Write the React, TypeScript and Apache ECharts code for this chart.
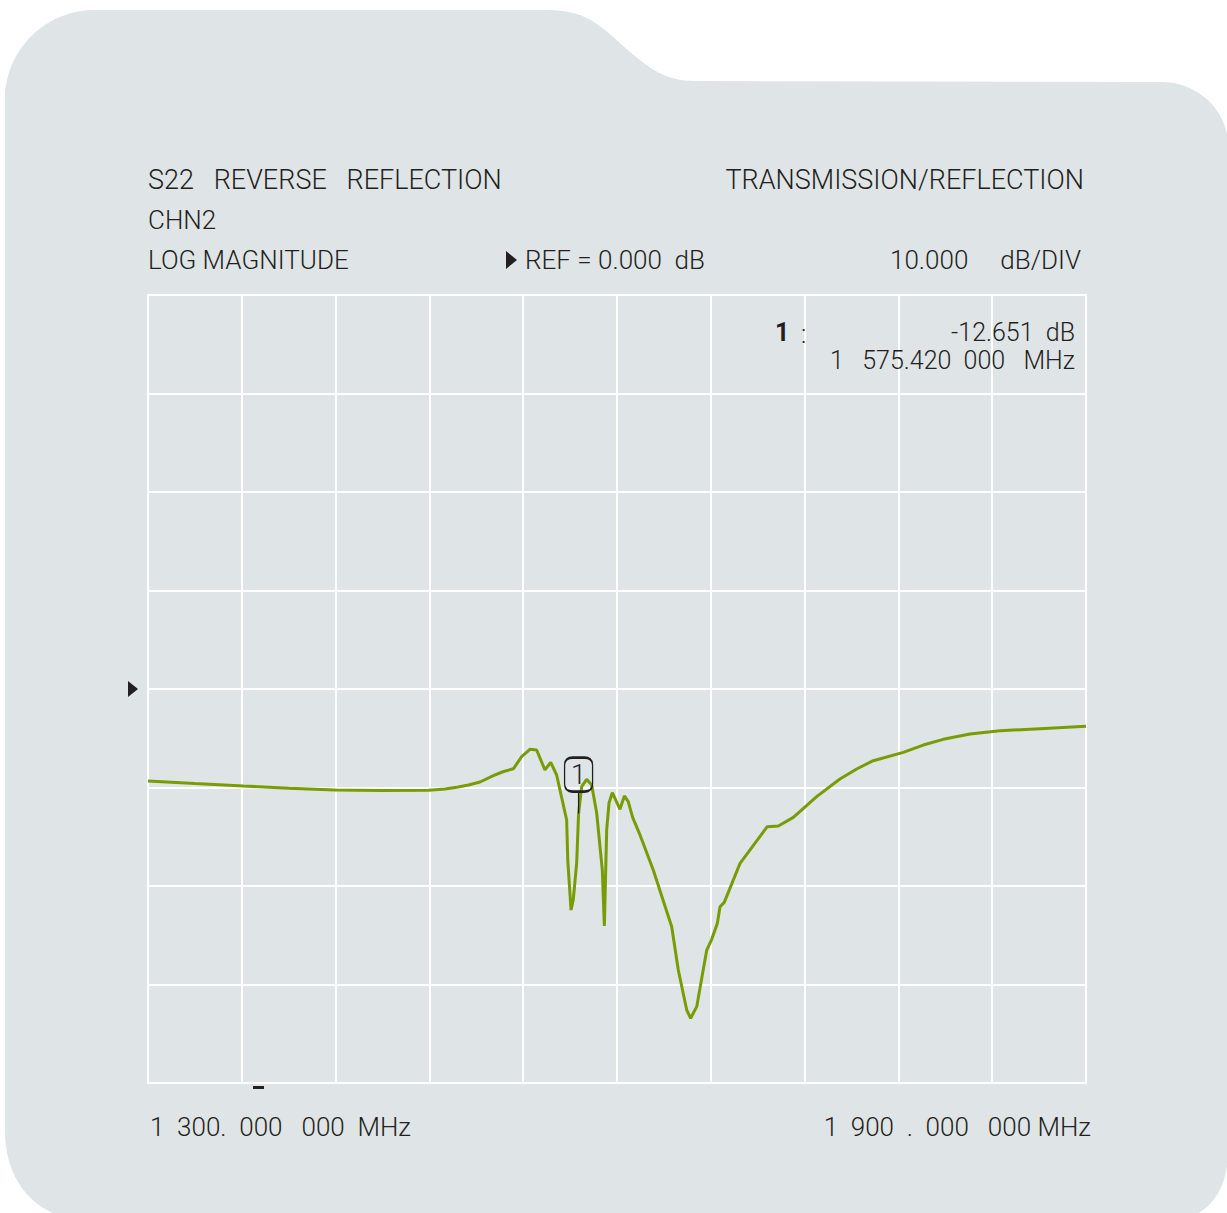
import React, { useEffect, useRef } from "react";
import * as echarts from "echarts";

// ---- data ----
const freqMHz = [
  1300, 1330, 1361, 1390, 1419.6, 1450, 1479.7, 1490, 1497.5, 1505, 1512.4, 1520.9, 1527, 1533.7,
  1539.0, 1544.3, 1548.6, 1553.9, 1557.6, 1561.4, 1567.8, 1568.5, 1570.6, 1572.0, 1574.2, 1575.42,
  1577.4, 1580.6, 1583.8, 1587.0, 1590.6, 1591.9, 1593.4, 1594.9, 1597.0, 1599.2, 1601.9, 1604.7,
  1607.2, 1610.0, 1614.3, 1623.2, 1635.0, 1639.2, 1644.6, 1647.1, 1651.0, 1657.4, 1660.6, 1664.2,
  1665.9, 1668.6, 1678.7, 1696.1, 1703.2, 1712.8, 1727.7, 1742.6, 1753.3, 1763.9, 1783.1, 1795.9,
  1808.7, 1825.8, 1845.0, 1870.6, 1900,
];
const magDB = [
  -9.34, -9.6, -9.85, -10.07, -10.25, -10.3, -10.28, -10.15, -9.98, -9.75, -9.44, -8.8, -8.4, -8.1,
  -6.87, -6.12, -6.19, -8.22, -7.44, -8.73, -13.3, -17.36, -22.44, -21.42, -17.67, -12.65,
  -9.92, -9.17, -9.75, -12.59, -18.38, -24.06, -14.31, -11.57, -10.53, -11.27, -12.21, -10.86,
  -11.44, -13.03, -14.65, -18.38, -24.13, -28.53, -32.59, -33.43, -32.25, -26.5, -25.41, -23.79,
  -22.1, -21.66, -17.7, -13.98, -13.91, -13.03, -10.93, -9.14, -8.12, -7.28, -6.43, -5.69,
  -5.11, -4.57, -4.23, -4.03, -3.79,
];
const startFreq = 1300;
const stopFreq = 1900;
const freqStep = 60;
const refLevel = 0;
const dbPerDiv = 10;
const dbMin = -40;
const dbMax = 40;
const markerFreq = 1575.42;
const markerDB = -12.651;

const headerLeft1 = "S22\u00A0\u00A0\u00A0REVERSE\u00A0\u00A0\u00A0REFLECTION";
const headerRight1 = "TRANSMISSION/REFLECTION";
const headerLeft2 = "CHN2";
const headerLeft3 = "LOG MAGNITUDE";
const headerRef = "REF = 0.000\u00A0\u00A0dB";
const headerScale = "10.000";
const headerUnit = "dB/DIV";
const readoutDB = "-12.651\u00A0\u00A0dB";
const readoutFreq = "1\u00A0\u00A0\u00A0575.420\u00A0\u00A0000\u00A0\u00A0\u00A0MHz";
const startLabel = "1\u00A0\u00A0300.\u00A0\u00A0000\u00A0\u00A0\u00A0000\u00A0\u00A0MHz";
const stopLabel = "1\u00A0\u00A0900\u00A0\u00A0.\u00A0\u00A0000\u00A0\u00A0\u00A0000\u00A0MHz";

const BG_PATH =
  "M5,100 C5,50 45,10 95,10 L548,10 C585,10 600,25 622,45 C648,68 665,81 695,81 L1162,82 C1197,82 1228,110 1228,145 L1228,1150 C1228,1190 1210,1222 1160,1222 L95,1222 C45,1222 5,1190 5,1130 Z";

const MARKER_PATH =
  "path://M8,0 L20,0 Q28,0 28,8 L28,26 Q28,34 20,34 L8,34 Q0,34 0,26 L0,8 Q0,0 8,0 Z M14,34 L14,56";

const FONT = "Roboto, 'Noto Sans', sans-serif";
const INK = "#231f20";
const BG = "#dfe4e6";
const TRACE = "#789c04";

let registered = false;

export default function App() {
  const ref = useRef<HTMLDivElement>(null);

  useEffect(() => {
    document.body.style.margin = "0";
    document.body.style.overflow = "hidden";
    if (!registered) {
      echarts.graphic.registerShape("bgShape", echarts.graphic.extendPath(BG_PATH, {}) as any);
      registered = true;
    }
    const chart = echarts.init(ref.current!, null, { renderer: "svg" });

    const txt = (text: string, x: number, y: number, align: string, extra: any = {}) => ({
      type: "text",
      z: 5,
      style: {
        text,
        x,
        y,
        fill: INK,
        fontSize: 26,
        fontWeight: 300,
        fontFamily: FONT,
        textAlign: align,
        textVerticalAlign: "middle",
        ...extra,
      },
    });

    chart.setOption({
      animation: false,
      backgroundColor: "#ffffff",
      graphic: {
        elements: [
          { type: "bgShape", x: 0, y: 0, z: -10, style: { fill: BG } },
          txt(headerLeft1, 148, 180, "left", { fontSize: 27 }),
          txt(headerRight1, 1084, 180, "right", { fontSize: 27 }),
          txt(headerLeft2, 148, 220, "left"),
          txt(headerLeft3, 148, 260, "left"),
          {
            type: "polygon",
            z: 5,
            shape: { points: [[506, 251], [517, 260], [506, 269]] },
            style: { fill: INK },
          },
          txt(headerRef, 525, 260, "left"),
          txt(headerScale, 890, 260, "left"),
          txt(headerUnit, 1081, 260, "right"),
          txt("1", 775, 332, "left", { fontWeight: "bold", fontSize: 25 }),
          txt(":", 801, 334, "left", { fontSize: 25 }),
          txt(readoutDB, 1075, 332, "right", { fontSize: 25 }),
          txt(readoutFreq, 1075, 360, "right", { fontSize: 25 }),
          txt(startLabel, 150, 1127, "left"),
          txt(stopLabel, 1091, 1127, "right"),
          { type: "rect", z: 5, shape: { x: 253, y: 1086, width: 11, height: 3 }, style: { fill: INK } },
        ],
      },
      grid: {
        left: 148,
        top: 295,
        width: 938,
        height: 788,
        show: true,
        borderColor: "#ffffff",
        borderWidth: 2,
        backgroundColor: "transparent",
      },
      xAxis: {
        type: "value",
        min: startFreq,
        max: stopFreq,
        interval: freqStep,
        axisLine: { show: false },
        axisTick: { show: false },
        axisLabel: { show: false },
        splitLine: { show: true, lineStyle: { color: "#ffffff", width: 2 } },
      },
      yAxis: {
        type: "value",
        min: dbMin,
        max: dbMax,
        interval: dbPerDiv,
        axisLine: { show: false },
        axisTick: { show: false },
        axisLabel: { show: false },
        splitLine: { show: true, lineStyle: { color: "#ffffff", width: 2 } },
      },
      series: [
        {
          type: "line",
          data: freqMHz.map((f, i) => [f, magDB[i]]),
          showSymbol: false,
          symbol: "none",
          lineStyle: { color: TRACE, width: 3 },
          clip: false,
          markPoint: {
            silent: true,
            data: [
              {
                coord: [markerFreq, markerDB],
                symbol: MARKER_PATH,
                symbolSize: [28, 56],
                symbolOffset: [0, -28],
                itemStyle: { color: "rgba(0,0,0,0)", borderColor: INK, borderWidth: 1.8 },
                label: {
                  show: true,
                  formatter: "1",
                  position: "inside",
                  offset: [0, -11],
                  fontSize: 27,
                  fontWeight: 300,
                  fontFamily: FONT,
                  color: INK,
                },
              },
              {
                coord: [startFreq, refLevel],
                symbol: "triangle",
                symbolSize: [16, 10],
                symbolRotate: -90,
                symbolOffset: [-15, 0],
                itemStyle: { color: INK, borderWidth: 0 },
                label: { show: false },
              },
            ],
          },
        },
      ],
    });
    return () => chart.dispose();
  }, []);

  return (
    <div
      ref={ref}
      style={{ position: "absolute", left: 0, top: 0, width: 1227, height: 1213 }}
    />
  );
}
